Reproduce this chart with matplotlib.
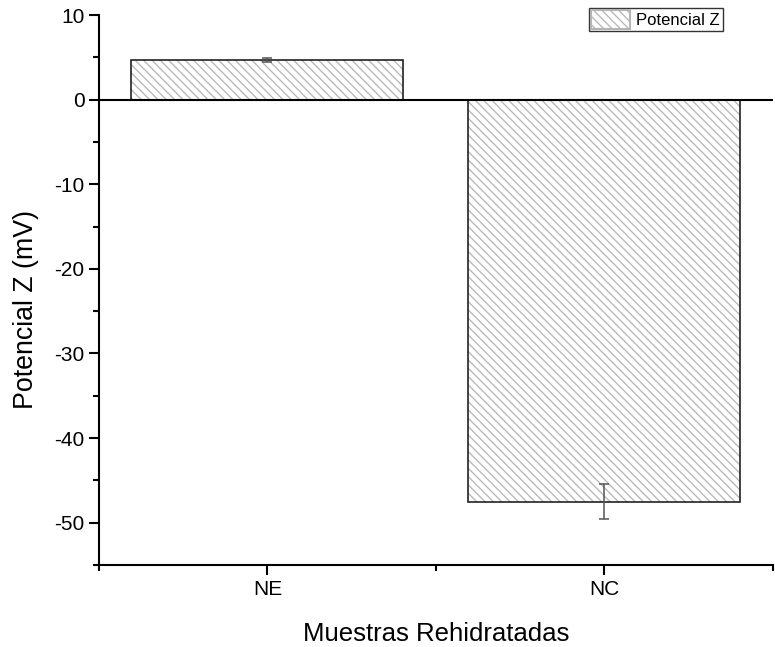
import matplotlib.pyplot as plt
from matplotlib.ticker import MultipleLocator
from matplotlib.patches import Patch

plt.rcParams['font.family'] = ['Liberation Sans', 'DejaVu Sans']
plt.rcParams['axes.unicode_minus'] = False
plt.rcParams['hatch.linewidth'] = 0.9

muestras = ['NE', 'NC']
potencial = [4.7, -47.5]
error = [0.2, 2.05]

fig = plt.figure(figsize=(7.75, 6.47), dpi=100)
ax = fig.add_axes([0.1277, 0.1267, 0.8697, 0.8501])

x = [1, 2]
# hatch drawn in grey first, then the dark outline on top
ax.bar(x, potencial, width=0.807, color='white', edgecolor='#b4b4b4',
       linewidth=0, hatch='\\' * 4, zorder=2)
ax.bar(x, potencial, width=0.807, fill=False, edgecolor='#222222',
       linewidth=1.2, zorder=2.5)
ax.errorbar(x, potencial, yerr=error, fmt='none', ecolor='#555555',
            elinewidth=1.1, capsize=3.6, capthick=1.1, zorder=3)
ax.axhline(0, color='black', linewidth=1.5, zorder=4)

ax.set_xlim(0.5, 2.5)
ax.set_ylim(-55, 10)
ax.set_xticks(x)
ax.set_xticklabels(muestras)
ax.set_xticks([0.5, 1.5, 2.5], minor=True)
ax.yaxis.set_major_locator(MultipleLocator(10))
ax.yaxis.set_minor_locator(MultipleLocator(5))

for side in ['top', 'right']:
    ax.spines[side].set_visible(False)
for side in ['left', 'bottom']:
    ax.spines[side].set_linewidth(1.5)

ax.tick_params(axis='both', which='major', direction='out', length=7,
               width=1.5, labelsize=15)
ax.tick_params(axis='both', which='minor', direction='out', length=4,
               width=1.5)

ax.set_xlabel('Muestras Rehidratadas', fontsize=18.5, labelpad=17)
ax.set_ylabel('Potencial Z (mV)', fontsize=19.3)
ax.yaxis.set_label_coords(-0.089, 0.464)

# legend patch built to match the hatched bars
handle = Patch(facecolor='white', edgecolor='#b4b4b4', hatch='\\' * 4)
leg = ax.legend([handle], ['Potencial Z'], loc='upper left',
                bbox_to_anchor=(0.727, 1.013), fontsize=12, frameon=True,
                fancybox=False, borderpad=0.15, handlelength=2.3,
                handleheight=1.3, handletextpad=0.4, borderaxespad=0)
leg.get_frame().set_edgecolor('black')
leg.get_frame().set_linewidth(1.0)
for p in leg.get_patches():
    p.set_linewidth(1.5)

fig.savefig('out.png', dpi=100)
